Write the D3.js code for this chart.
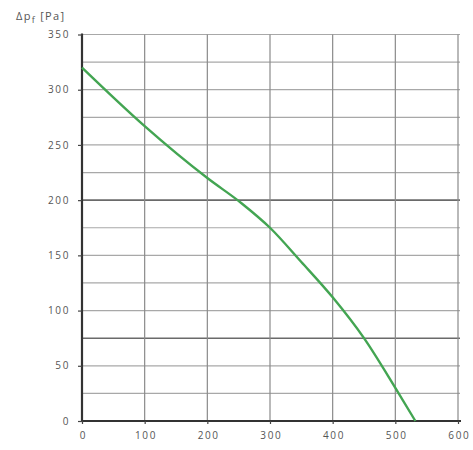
<!DOCTYPE html>
<html>
<head>
<meta charset="utf-8">
<script src="https://cdn.jsdelivr.net/npm/d3@7"></script>
<style>
  body { margin: 0; background: #fff; }
  text { font-family: "Open Sans", "DejaVu Sans", sans-serif; }
</style>
</head>
<body>
<script>
const flow = [0, 100, 200, 255, 300, 350, 400, 450, 500, 532]
const pressure = [320, 267, 220, 197, 175, 144, 112, 75, 30, 0]
const xTicks = [0, 100, 200, 300, 400, 500, 600]
const yTicks = [0, 50, 100, 150, 200, 250, 300, 350]
const yGrid = d3.range(25, 351, 25)
const darkLines = [75, 200]

const w = 473
const h = 450

const svg = d3.select('body')
    .append('svg')
    .attr('width', w)
    .attr('height', h)

const x = d3.scaleLinear()
    .domain([0, 600])
    .range([82, 458])

const y = d3.scaleLinear()
    .domain([0, 350])
    .range([421, 34.5])

// horizontal grid
svg.append('g')
    .selectAll('line')
    .data(yGrid)
    .enter()
    .append('line')
    .attr('x1', x(0))
    .attr('x2', x(600) + 2)
    .attr('y1', d => y(d))
    .attr('y2', d => y(d))
    .attr('stroke', d => darkLines.includes(d) ? '#6a6a6a' : '#a8a8a8')
    .attr('stroke-width', d => darkLines.includes(d) ? 1.6 : 1.2)

// vertical grid
svg.append('g')
    .selectAll('line')
    .data(xTicks.slice(1))
    .enter()
    .append('line')
    .attr('x1', d => x(d))
    .attr('x2', d => x(d))
    .attr('y1', y(350))
    .attr('y2', y(0))
    .attr('stroke', '#8a8a8a')
    .attr('stroke-width', 1.2)

const xAxis = d3.axisBottom(x)
    .tickValues(xTicks)
    .tickSize(3)
    .tickPadding(8)

const yAxis = d3.axisLeft(y)
    .tickValues(yTicks)
    .tickSize(4)
    .tickPadding(8)

const gx = svg.append('g')
    .attr('transform', `translate(0, ${y(0)})`)
    .call(xAxis)

const gy = svg.append('g')
    .attr('transform', `translate(${x(0)}, 0)`)
    .call(yAxis)

for (const g of [gx, gy]) {
    g.select('.domain').attr('stroke', '#333').attr('stroke-width', 2.2)
    g.selectAll('.tick line').attr('stroke', '#444').attr('stroke-width', 1.2)
    g.selectAll('.tick text')
        .attr('fill', '#555')
        .style('font-size', '10px')
        .style('letter-spacing', '1.6px')
}
gx.select('.domain').attr('d', `M${x(0)},0H${x(600) + 3}`)
gy.select('.domain').attr('d', `M0,${y(350) - 1}V${y(0)}`)
gx.selectAll('.tick text').attr('dx', '0.8px')

// curve
const line = d3.line()
    .x((d, i) => x(flow[i]))
    .y(d => y(d))
    .curve(d3.curveMonotoneX)

svg.append('path')
    .datum(pressure)
    .attr('d', line)
    .attr('fill', 'none')
    .attr('stroke', '#43a552')
    .attr('stroke-width', 2.4)

// axis title
const title = svg.append('text')
    .attr('x', 16)
    .attr('y', 20)
    .attr('fill', '#555')
    .style('font-size', '11px')
    .style('letter-spacing', '1.3px')
title.append('tspan').text('Δp')
title.append('tspan').attr('dy', 3).style('font-size', '9px').text('f')
title.append('tspan').attr('dy', -3).text(' [Pa]')
</script>
</body>
</html>
